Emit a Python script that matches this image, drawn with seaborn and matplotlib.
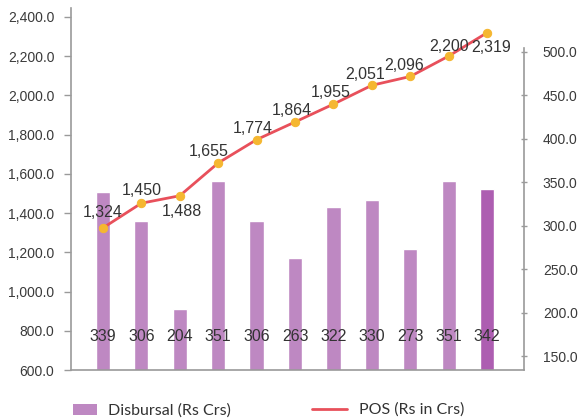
import numpy as np
import pandas as pd
import matplotlib
matplotlib.use("Agg")
import matplotlib.pyplot as plt
import seaborn as sns
from matplotlib.patches import Patch
from matplotlib.lines import Line2D
import matplotlib.transforms as mtransforms

# ---- data ----
months = ["A-17", "M-17", "J-17", "J-17", "A-17", "S-17", "O-17", "N-17", "D-17", "J-18", "F-18"]
disbursal = [339, 306, 204, 351, 306, 263, 322, 330, 273, 351, 342]
pos = [1324, 1450, 1488, 1655, 1774, 1864, 1955, 2051, 2096, 2200, 2319]
left_ticks = [600, 800, 1000, 1200, 1400, 1600, 1800, 2000, 2200, 2400]
right_ticks = [150, 200, 250, 300, 350, 400, 450, 500]

# label offsets (pixels) for POS labels
pos_label_offsets = [(0, 15), (0, 13), (2, -16), (-9, 12), (-4, 11), (-3, 11),
                     (-3, 12), (-7, 11), (-6, 11), (0, 10), (4, -15)]

sns.set_style("white")
plt.rcParams["font.family"] = ["Liberation Sans", "DejaVu Sans"]
narrow = ["Liberation Sans Narrow", "Liberation Sans", "DejaVu Sans"]

bar_color = "#BE88C2"
last_bar_color = "#AD5EB1"
line_color = "#E8505B"
marker_color = "#F5B731"
axis_gray = "#9A9A9A"
text_col = "#3A3A3A"

fig = plt.figure(figsize=(5.8, 4.19), dpi=100)
W, H = 580, 419
ax = fig.add_axes([71 / W, 1 - 370 / H, (524 - 71) / W, (370 - 8) / H])
ax2 = ax.twinx()

x = np.arange(len(months))
df = pd.DataFrame({"x": x, "disb": disbursal, "pos": pos})
colors = [bar_color] * (len(months) - 1) + [last_bar_color]

sns.barplot(data=df, x="x", y="disb", hue="x", palette=colors, legend=False,
            width=0.37, ax=ax2, saturation=1)
sns.lineplot(data=df, x="x", y="pos", ax=ax, color=line_color, lw=2,
             marker="o", markersize=6, markerfacecolor=marker_color,
             markeredgecolor=marker_color)

ax.set_zorder(ax2.get_zorder() + 1)
ax.patch.set_visible(False)

ax.set_xlim(-0.83, 10.96)
ax2.set_xlim(-0.83, 10.96)
ax.set_ylim(600, 2445)
ax2.set_ylim(134.5, 550)

ax.set_yticks(left_ticks)
ax.set_yticklabels([f"{v:,.1f}" for v in left_ticks], fontsize=10, color=text_col)
ax2.set_yticks(right_ticks)
ax2.set_yticklabels([f"{v:.1f}" for v in right_ticks], fontsize=10, color=text_col)

ax.set_xticks(x)
ax.set_xticklabels(months, fontsize=9.5, color=text_col, family=narrow)
ax2.set_xticks([])

ax.set_xlabel("")
ax.set_ylabel("")
ax2.set_xlabel("")
ax2.set_ylabel("")

for s in ["top", "right"]:
    ax.spines[s].set_visible(False)
for s in ["left", "bottom"]:
    ax.spines[s].set_color(axis_gray)
    ax.spines[s].set_linewidth(1.2)
for s in ["top", "left", "bottom"]:
    ax2.spines[s].set_visible(False)
ax2.spines["right"].set_color(axis_gray)
ax2.spines["right"].set_linewidth(1.2)
ax2.spines["right"].set_bounds(134.5, 504)

ax.tick_params(axis="y", direction="out", length=5, width=1, color=axis_gray, pad=7)
ax.tick_params(axis="x", length=0, pad=6)
ax2.tick_params(axis="y", direction="inout", length=5, width=1, color=axis_gray, pad=11)

# bar value labels (at a fixed height near the bottom)
trans = mtransforms.blended_transform_factory(ax2.transData, ax.transAxes)
lab_y = (370 - 336) / (370 - 8)
for xi, v in zip(x, disbursal):
    ax2.text(xi, lab_y, f"{v}", transform=trans, ha="center", va="center",
             fontsize=11.5, color="#333333", family=narrow)

# POS labels
for xi, v, off in zip(x, pos, pos_label_offsets):
    ax.annotate(f"{v:,}", (xi, v), xytext=off, textcoords="offset pixels",
                ha="center", va="center", fontsize=11.5, color="#333333", family=narrow)

# legends
leg_font = {"family": ["Lato", "DejaVu Sans"], "size": 11.5}
fs_px = 11.5 * 100 / 72
h1 = Patch(facecolor=bar_color, edgecolor="none")
leg1 = fig.legend([h1], ["Disbursal (Rs Crs)"], loc="center left",
                  bbox_to_anchor=(73 / W, 1 - 411 / H), frameon=False,
                  prop=leg_font, borderpad=0, borderaxespad=0,
                  handlelength=24 / fs_px, handleheight=10 / fs_px,
                  handletextpad=11 / fs_px, labelcolor="#333333")
h2 = Line2D([], [], color=line_color, lw=2)
leg2 = fig.legend([h2], ["POS (Rs in Crs)"], loc="center left",
                  bbox_to_anchor=(312 / W, 1 - 410 / H), frameon=False,
                  prop=leg_font, borderpad=0, borderaxespad=0,
                  handlelength=35 / fs_px, handletextpad=12 / fs_px,
                  labelcolor="#333333")

fig.savefig("out.png", dpi=100)
